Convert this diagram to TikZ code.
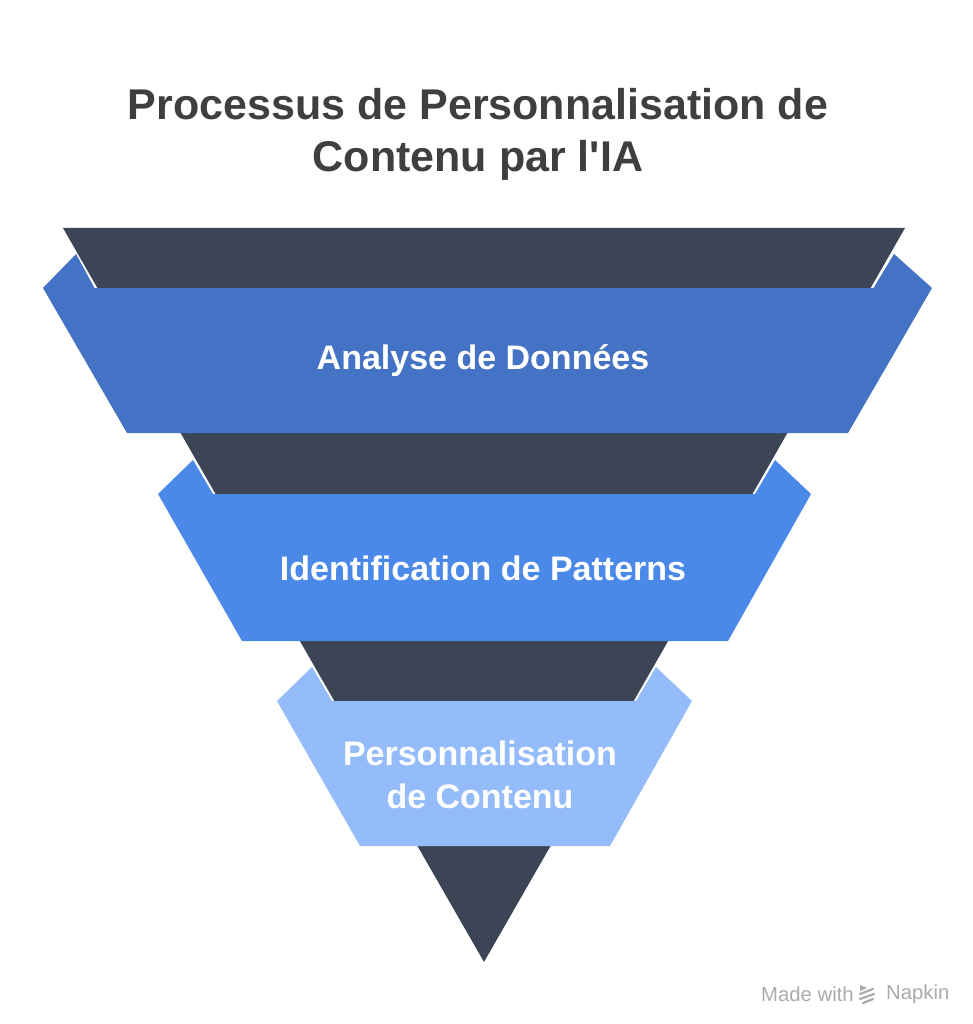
\documentclass[tikz,border=0pt]{standalone}
\usepackage{fontspec}
\setmainfont{Liberation Sans}
\newfontfamily\plainsans{Liberation Sans}[Ligatures=ResetAll]
\definecolor{darkfun}{HTML}{3B4556}
\definecolor{bandA}{HTML}{4472C4}
\definecolor{bandB}{HTML}{4A89E8}
\definecolor{bandC}{HTML}{94BCFA}
\definecolor{titlegray}{HTML}{3F3F3F}
\definecolor{markgray}{HTML}{ABABAB}
\begin{document}
\begin{tikzpicture}[x=1pt,y=-1pt,
  bandtext/.style={text=white,font=\fontsize{34}{43}\selectfont\bfseries,align=center},
  marktext/.style={text=markgray,font=\fontsize{20.3}{22}\selectfont,anchor=west,inner sep=0},
  funnel/.style={fill=darkfun,draw=none},
  band/.style={draw=none}]
\useasboundingbox (0,0) rectangle (972,1024);
\fill[white] (0,0) rectangle (972,1024);
% title
\node[text=titlegray,font=\fontsize{43}{52}\selectfont\bfseries\plainsans,align=center] (title) at (478,134)
  {Processus de Personnalisation de\\Contenu par l'IA};
% dark funnel triangle
\fill[funnel] (63,228) -- (905,228) -- (484,962) -- cycle;
% band 1
\fill[band,bandA] (43,288) -- (76,254) -- (94.5,288) -- (873.5,288) -- (894,254) -- (932,288) -- (848,433) -- (127,433) -- cycle;
% band 2
\fill[band,bandB] (158,494) -- (193,460) -- (213,494) -- (755,494) -- (775,460) -- (811,494) -- (728,641) -- (242,641) -- cycle;
% band 3
\fill[band,bandC] (277,701) -- (312,667) -- (332,701) -- (636,701) -- (656,667) -- (692,701) -- (610,846) -- (360,846) -- cycle;
% labels
\node[bandtext] (l1) at (483,361) {Analyse de Donn\'ees};
\node[bandtext] (l2) at (483,568) {Identification de Patterns};
\node[bandtext] (l3) at (480,775) {Personnalisation\\de Contenu};
% watermark
\node[marktext] (made) at (761,994) {Made with};
\node[marktext] (napkin) at (886,994) {Napkin};
\begin{scope}[markgray,line width=2.2pt,line cap=round]
\fill (860,985) -- (867,988) -- (860,991) -- cycle;
\draw (860,994) -- (873,989);
\draw (860,999) -- (874,994);
\draw (863,1003) -- (873,999);
\end{scope}
\end{tikzpicture}
\end{document}
